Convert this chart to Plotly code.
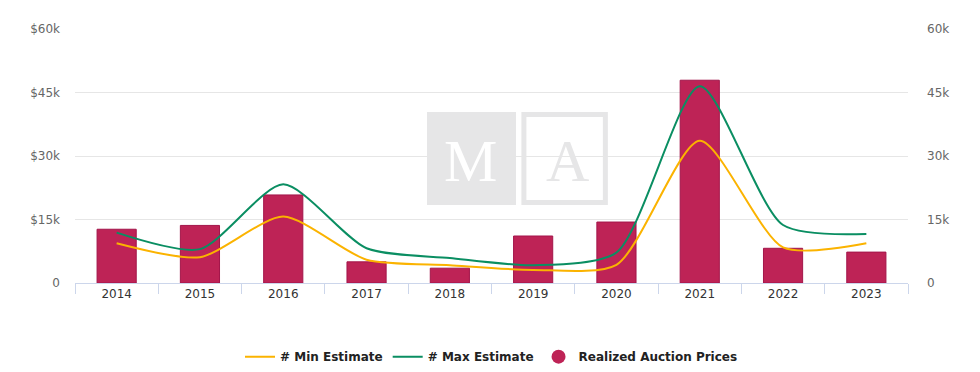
import plotly.graph_objects as go

years = [2014, 2015, 2016, 2017, 2018, 2019, 2020, 2021, 2022, 2023]
realized = [12700, 13600, 20800, 5000, 3500, 11100, 14400, 47900, 8200, 7300]
min_est = [9400, 6100, 15700, 5500, 4200, 3100, 4300, 33600, 8400, 9400]
max_est = [11900, 8000, 23300, 8200, 5900, 4200, 7200, 46500, 13700, 11600]

y_ticks = [0, 15000, 30000, 45000, 60000]
y_left_text = ["0", "$15k", "$30k", "$45k", "$60k"]
y_right_text = ["0", "15k", "30k", "45k", "60k"]

bar_color = "#BE2356"
min_color = "#FBB300"
max_color = "#0A8E62"

fig = go.Figure()

fig.add_trace(go.Bar(
    x=years, y=realized, name="Realized Auction Prices",
    marker=dict(color=bar_color, line=dict(color="#A3154A", width=1)),
    showlegend=False, width=0.47,
))
fig.add_trace(go.Scatter(
    x=years, y=min_est, name="# Min Estimate", mode="lines",
    line=dict(color=min_color, width=2, shape="spline", smoothing=0.7),
))
fig.add_trace(go.Scatter(
    x=years, y=max_est, name="# Max Estimate", mode="lines",
    line=dict(color=max_color, width=2, shape="spline", smoothing=0.7),
))
# legend entry for the bars (circle symbol)
fig.add_trace(go.Scatter(
    x=[None], y=[None], name="Realized Auction Prices", mode="markers",
    marker=dict(color=bar_color, size=14, symbol="circle"),
))
# right axis mirror
fig.add_trace(go.Scatter(x=[None], y=[None], yaxis="y2", showlegend=False))

# watermark
fig.add_shape(type="rect", xref="paper", yref="paper", layer="below",
              x0=0.4226, x1=0.5294, y0=0.307, y1=0.673,
              fillcolor="#E6E6E7", line=dict(width=0))
fig.add_shape(type="rect", xref="paper", yref="paper", layer="below",
              x0=0.5389, x1=0.6367, y0=0.317, y1=0.663,
              fillcolor="rgba(0,0,0,0)", line=dict(color="#E6E6E7", width=5))
fig.add_annotation(text="M", xref="paper", yref="paper", x=0.475, y=0.48,
                   showarrow=False, font=dict(family="Liberation Serif", size=60, color="white"))
fig.add_annotation(text="A", xref="paper", yref="paper", x=0.591, y=0.48,
                   showarrow=False, font=dict(family="Liberation Serif", size=60, color="#E6E6E7"))

tick_font = dict(family="DejaVu Sans", size=12, color="#666666")

fig.update_layout(
    width=980, height=372,
    margin=dict(l=75, r=72, t=29, b=89, autoexpand=False),
    paper_bgcolor="white", plot_bgcolor="white",
    bargap=0.5,
    showlegend=True,
    legend=dict(orientation="h", x=0.5, xanchor="center", y=-0.29, yanchor="middle",
                font=dict(family="DejaVu Sans", size=12, color="#222222", weight="bold"),
                itemwidth=30, traceorder="normal"),
    xaxis=dict(
        range=[2013.5, 2023.5], tickmode="array", tickvals=years, automargin=False,
        ticktext=[str(y) for y in years], ticks="", showgrid=False, zeroline=False,
        showline=True, linecolor="#CCD6EB", linewidth=1,
        tickfont=dict(family="DejaVu Sans", size=12, color="#333333"),
        minor=dict(tickmode="array", tickvals=[y - 0.5 for y in years] + [years[-1] + 0.5],
                   ticks="outside", ticklen=10, tickcolor="#CCD6EB", tickwidth=1, showgrid=False),
    ),
    yaxis=dict(
        range=[0, 60000], tickmode="array", tickvals=y_ticks, ticktext=y_left_text,
        showgrid=True, gridcolor="#E6E6E6", gridwidth=1, zeroline=False, automargin=False,
        tickfont=tick_font, ticks="", ticklabelstandoff=14,
    ),
    yaxis2=dict(
        range=[0, 60000], tickmode="array", tickvals=y_ticks, ticktext=y_right_text,
        overlaying="y", side="right", showgrid=False, zeroline=False, automargin=False,
        tickfont=tick_font, ticks="", ticklabelstandoff=18,
    ),
)

fig.write_html("out.html", post_script="document.body.style.margin='0';",
               config={"displayModeBar": False})
